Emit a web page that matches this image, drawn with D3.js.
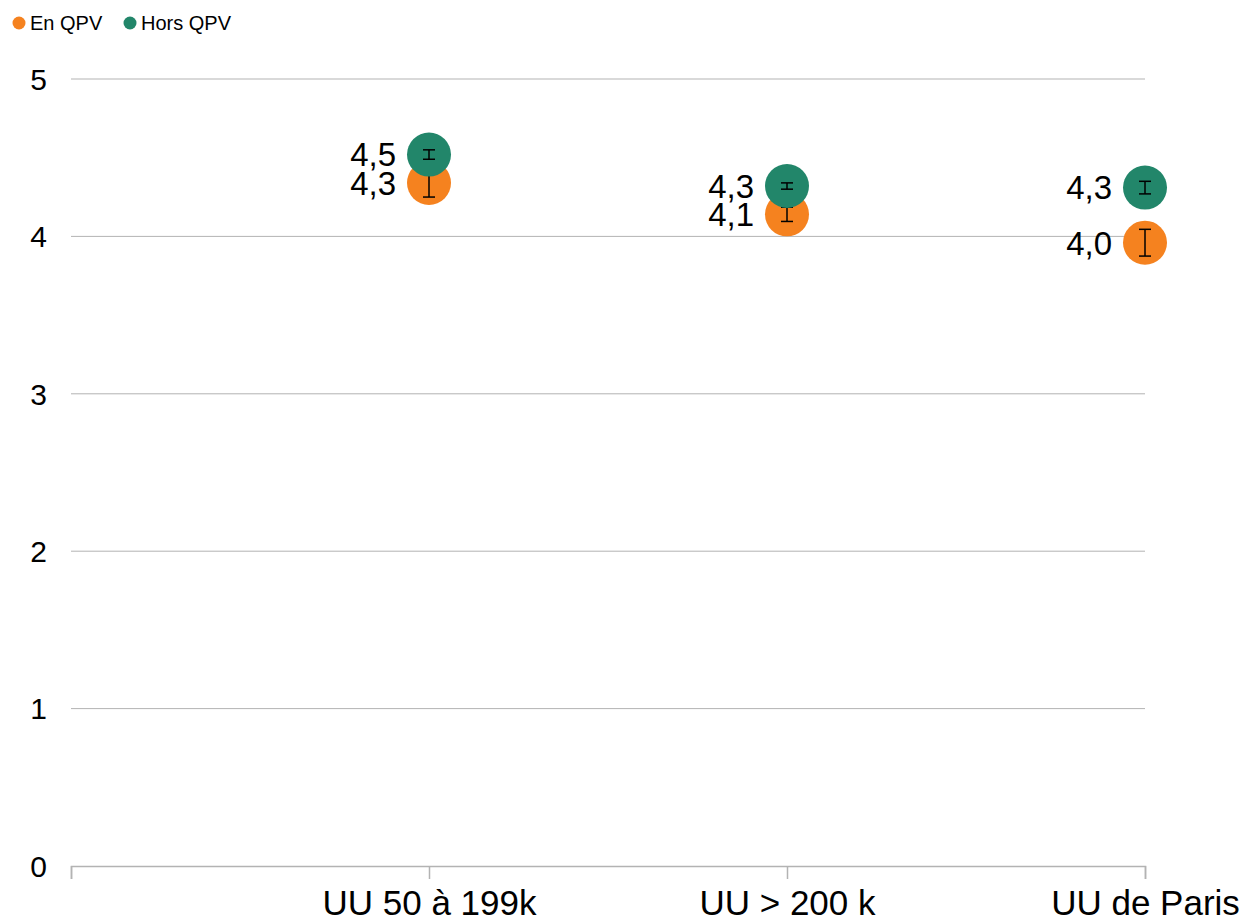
<!DOCTYPE html>
<html>
<head>
<meta charset="utf-8">
<script src="https://cdn.jsdelivr.net/npm/d3@7"></script>
<style>
  body { margin: 0; background: #fff; }
  text { font-family: "Liberation Sans", Arial, sans-serif; }
</style>
</head>
<body>
<svg id="chart" width="1244" height="921"></svg>
<script>
// Categories and series values
var categories = ['UU 50 à 199k', 'UU > 200 k', 'UU de Paris'];
var seriesNames = ['En QPV', 'Hors QPV'];
var seriesColors = ['#f5821f', '#22866a'];
var enQpv = [4.34, 4.14, 3.96];
var horsQpv = [4.52, 4.32, 4.31];
// half-width of the confidence intervals
var enQpvErr = [0.09, 0.045, 0.085];
var horsQpvErr = [0.03, 0.02, 0.04];
var yTicks = [0, 1, 2, 3, 4, 5];

var svg = d3.select('#chart');
var margin = {left: 71, right: 99, top: 79, bottom: 55};
var width = 1244 - margin.left - margin.right;
var height = 921 - margin.top - margin.bottom;
var g = svg.append('g').attr('transform', `translate(${margin.left},${margin.top})`);

var x = d3.scaleLinear().domain([0, categories.length]).range([0, width]);
var y = d3.scaleLinear().domain([0, 5]).range([height, 0]);

// horizontal grid
g.append('g')
  .selectAll('line')
  .data(yTicks.slice(1))
  .join('line')
  .attr('x1', 0).attr('x2', width)
  .attr('y1', d => y(d)).attr('y2', d => y(d))
  .attr('stroke', '#b3b3b3').attr('stroke-width', 1);

// y tick labels
g.append('g')
  .selectAll('text')
  .data(yTicks)
  .join('text')
  .attr('x', -24)
  .attr('y', d => y(d))
  .attr('dy', '0.36em')
  .attr('text-anchor', 'end')
  .attr('font-size', 30)
  .attr('fill', '#000')
  .text(d => d);

// x axis
var xAxis = d3.axisBottom(x)
  .tickValues(d3.range(0, categories.length + 1))
  .tickSize(13)
  .tickFormat(d => d === 0 ? '' : categories[d - 1]);
var ax = g.append('g').attr('transform', `translate(0,${height})`).call(xAxis);
ax.select('.domain').attr('stroke', '#b3b3b3').attr('stroke-width', 1.5);
ax.selectAll('.tick line').attr('stroke', '#b3b3b3').attr('stroke-width', 1.5);
ax.selectAll('.tick text')
  .attr('font-family', '"Liberation Sans", Arial, sans-serif')
  .attr('font-size', 35)
  .attr('fill', '#000')
  .attr('y', 49)
  .attr('dy', null);

var series = [
  {name: seriesNames[0], values: enQpv, errs: enQpvErr, color: seriesColors[0]},
  {name: seriesNames[1], values: horsQpv, errs: horsQpvErr, color: seriesColors[1]}
];

var fmt = v => d3.format('.1f')(v).replace('.', ',');

series.forEach(s => {
  var pts = s.values.map((v, i) => ({v: v, e: s.errs[i], cx: x(i + 1)}));
  var layer = g.append('g');
  layer.selectAll('circle')
    .data(pts)
    .join('circle')
    .attr('cx', d => d.cx).attr('cy', d => y(d.v))
    .attr('r', 22)
    .attr('fill', s.color);

  // error bars
  var eb = layer.selectAll('g.err').data(pts).join('g').attr('class', 'err')
    .attr('stroke', '#000').attr('stroke-width', 1.5);
  eb.append('line')
    .attr('x1', d => d.cx).attr('x2', d => d.cx)
    .attr('y1', d => y(d.v + d.e)).attr('y2', d => y(d.v - d.e));
  eb.append('line')
    .attr('x1', d => d.cx - 6).attr('x2', d => d.cx + 6)
    .attr('y1', d => y(d.v + d.e)).attr('y2', d => y(d.v + d.e));
  eb.append('line')
    .attr('x1', d => d.cx - 6).attr('x2', d => d.cx + 6)
    .attr('y1', d => y(d.v - d.e)).attr('y2', d => y(d.v - d.e));

  // value labels
  layer.selectAll('text')
    .data(pts)
    .join('text')
    .attr('x', d => d.cx - 33)
    .attr('y', d => y(d.v))
    .attr('dy', '0.36em')
    .attr('text-anchor', 'end')
    .attr('font-size', 33)
    .attr('fill', '#000')
    .text(d => fmt(d.v));
});

// legend
var legend = svg.append('g').attr('transform', 'translate(19,23)');
var legendX = [0, 111];
series.forEach((s, i) => {
  var item = legend.append('g').attr('transform', `translate(${legendX[i]},0)`);
  item.append('circle').attr('r', 6.5).attr('fill', s.color);
  item.append('text')
    .attr('x', 11).attr('dy', '0.36em')
    .attr('font-size', 20).attr('fill', '#000')
    .text(s.name);
});
</script>
</body>
</html>
